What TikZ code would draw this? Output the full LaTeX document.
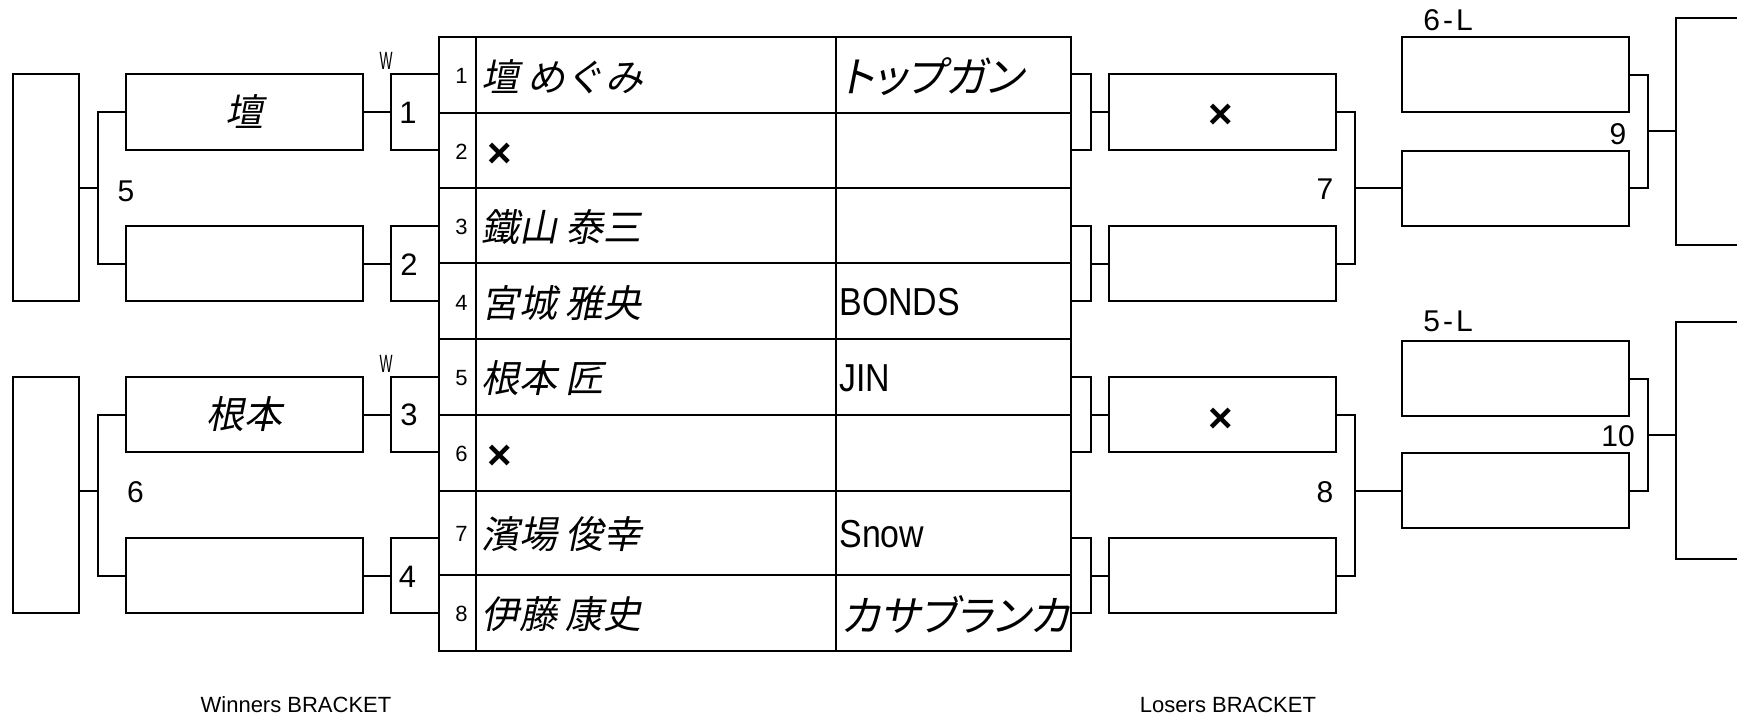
\documentclass[tikz,border=0pt]{standalone}
\usepackage{fontspec}
\setmainfont{Liberation Sans}
\newfontfamily\jpfont{Noto Sans CJK JP}[FakeSlant=0.2]
\newfontfamily\jpteamfont{Noto Sans CJK JP}[FakeSlant=0.2,RawFeature=+palt]
\newfontfamily\narrowfont{Liberation Sans}[FakeStretch=0.87]
\newfontfamily\wfont{Liberation Sans}[FakeStretch=0.55]
\usetikzlibrary{positioning}

\begin{document}
\begin{tikzpicture}[x=0.5pt,y=-0.5pt]
	\tikzstyle{slot}=[rectangle,draw,line width=1pt,outer sep=0pt,inner sep=0pt,minimum width=118.5pt,minimum height=37.75pt]
	\tikzstyle{loser}=[slot,minimum width=113.5pt]
	\tikzstyle{seed}=[slot,minimum width=23.75pt]
	\tikzstyle{tab}=[slot,minimum width=9.85pt]
	\tikzstyle{edge}=[draw,line width=1pt]
	\tikzstyle{jp}=[font=\jpfont\fontsize{19pt}{21pt}\selectfont]
	\tikzstyle{jpteam}=[font=\jpteamfont\fontsize{21pt}{22pt}\selectfont]
	\tikzstyle{en}=[font=\narrowfont\fontsize{19.5pt}{21pt}\selectfont]
	\tikzstyle{seedno}=[inner sep=0pt,anchor=east,font=\fontsize{11pt}{12pt}\selectfont]
	\tikzstyle{boxno}=[inner sep=0pt,font=\fontsize{15.5pt}{17pt}\selectfont]
	\tikzstyle{rnd}=[inner sep=0pt,font=\fontsize{15pt}{16pt}\selectfont]
	\tikzstyle{cross}=[inner sep=0pt,font=\bfseries\fontsize{21pt}{22pt}\selectfont]
	\tikzstyle{win}=[inner sep=0pt,font=\wfont\fontsize{12.5pt}{13pt}\selectfont]
	\tikzstyle{foot}=[inner sep=0pt,font=\fontsize{11pt}{12pt}\selectfont]

	\useasboundingbox (0,0) rectangle (1737,720);
	\clip (0,0) rectangle (1737,720);

	\begin{scope}
		\node [slot,jp] (wa1) at (244.5,112) {壇};
		\node [slot] (wa2) at (244.5,263.5) {};
		\node [slot,jp] (wa3) at (244.5,414.6) {根本};
		\node [slot] (wa4) at (244.5,575.5) {};
		\node [slot,minimum width=33pt,minimum height=113.5pt] (wf1) at (46,187.5) {};
		\node [slot,minimum width=33pt,minimum height=118.15pt] (wf2) at (46,495) {};

		\node [seed] (m1) at (414.75,112) {};
		\node [seed] (m2) at (414.75,263.5) {};
		\node [seed] (m3) at (414.75,414.6) {};
		\node [seed] (m4) at (414.75,575.5) {};
		\node [boxno] (m1t) at (408,113.3) {1};
		\node [boxno] (m2t) at (409,265) {2};
		\node [boxno] (m3t) at (409,415) {3};
		\node [boxno] (m4t) at (407.5,576.7) {4};
		\node [win] (w1) at (386,61) {W};
		\node [win] (w2) at (386,364) {W};

		\coordinate (j5) at (98,187.5);
		\coordinate (j6) at (98,490.7);
		\path[edge] (wa1.west) -| (j5) |- (wa2.west);
		\path[edge] (j5) -- (wf1.east);
		\path[edge] (wa3.west) -| (j6) |- (wa4.west);
		\path[edge] (j6) -- (j6 -| wf2.east);
		\path[edge] (wa1.east) -- (m1.west);
		\path[edge] (wa2.east) -- (m2.west);
		\path[edge] (wa3.east) -- (m3.west);
		\path[edge] (wa4.east) -- (m4.west);
		\node [rnd] (r5) at (126,191.5) {5};
		\node [rnd] (r6) at (135.5,492) {6};
		\node [foot] (wb) at (296,705) {Winners BRACKET};
	\end{scope}

	\begin{scope}
		\path[edge] (438.5,37) rectangle (1071,650.5);
		\path[edge] (476,37) -- (476,650.5) (835.5,37) -- (835.5,650.5);
		\path[edge] (438.5,112.7) -- (1071,112.7) (438.5,188.3) -- (1071,188.3)
			(438.5,263.3) -- (1071,263.3) (438.5,339.3) -- (1071,339.3)
			(438.5,414.5) -- (1071,414.5) (438.5,490.5) -- (1071,490.5)
			(438.5,575.2) -- (1071,575.2);

		\node [seedno] (t1) at (468,76.4) {1};
		\node [seedno] (t2) at (468,152) {2};
		\node [seedno] (t3) at (468,227.3) {3};
		\node [seedno] (t4) at (468,302.8) {4};
		\node [seedno] (t5) at (468,378.4) {5};
		\node [seedno] (t6) at (468,454) {6};
		\node [seedno] (t7) at (468,534.4) {7};
		\node [seedno] (t8) at (468,614.4) {8};

		\node [jp,inner sep=0pt,anchor=west] (p1) at (481,76.4) {壇 めぐみ};
		\node [cross] (p2) at (500,155.5) {×};
		\node [jp,inner sep=0pt,anchor=west] (p3) at (481,227.3) {鐵山 泰三};
		\node [jp,inner sep=0pt,anchor=west] (p4) at (481,302.8) {宮城 雅央};
		\node [jp,inner sep=0pt,anchor=west] (p5) at (481,378.4) {根本 匠};
		\node [cross] (p6) at (500,457.5) {×};
		\node [jp,inner sep=0pt,anchor=west] (p7) at (481,534.4) {濱場 俊幸};
		\node [jp,inner sep=0pt,anchor=west] (p8) at (481,614.4) {伊藤 康史};

		\node [jpteam,inner sep=0pt,anchor=west] (c1) at (841,76.4) {トップガン};
		\node [en,inner sep=0pt,anchor=west] (c4) at (839,302.5) {BONDS};
		\node [en,inner sep=0pt,anchor=west] (c5) at (839,378.4) {JIN};
		\node [en,inner sep=0pt,anchor=west] (c7) at (839,534.4) {Snow};
		\node [jpteam,inner sep=0pt,anchor=west] (c8) at (841,614.4) {カサブランカ};
	\end{scope}

	\begin{scope}
		\node [tab] (b1) at (1080.85,112) {};
		\node [tab] (b2) at (1080.85,263.5) {};
		\node [tab] (b3) at (1080.85,414.6) {};
		\node [tab] (b4) at (1080.85,575.5) {};
		\node [loser] (l1) at (1222.5,112) {};
		\node [loser] (l2) at (1222.5,263.5) {};
		\node [loser] (l3) at (1222.5,414.6) {};
		\node [loser] (l4) at (1222.5,575.5) {};
		\node [cross] (x1) at (1221,116.5) {×};
		\node [cross] (x3) at (1221,420) {×};
		\path[edge] (b1.east) -- (l1.west);
		\path[edge] (b2.east) -- (l2.west);
		\path[edge] (b3.east) -- (l3.west);
		\path[edge] (b4.east) -- (l4.west);

		\node [loser,minimum width=113.65pt] (s1) at (1515.35,74.5) {};
		\node [loser,minimum width=113.65pt] (s2) at (1515.35,188.3) {};
		\node [loser,minimum width=113.65pt] (s3) at (1515.35,378.65) {};
		\node [loser,minimum width=113.65pt] (s4) at (1515.35,490.7) {};
		\node [slot,minimum width=62pt,minimum height=113.5pt] (f1) at (1738,131.5) {};
		\node [slot,minimum width=62pt,minimum height=118.5pt] (f2) at (1738,440.3) {};

		\coordinate (j7) at (1355,188.3);
		\coordinate (j8) at (1355,490.7);
		\coordinate (j9) at (1648.3,131.4);
		\coordinate (j10) at (1648.3,434.7);
		\path[edge] (l1.east) -| (j7) |- (l2.east);
		\path[edge] (j7) -- (s2.west);
		\path[edge] (l3.east) -| (j8) |- (l4.east);
		\path[edge] (j8) -- (s4.west);
		\path[edge] (s1.east) -| (j9) |- (s2.east);
		\path[edge] (j9) -- (j9 -| f1.west);
		\path[edge] (s3.east) -| (j10) |- (s4.east);
		\path[edge] (j10) -- (j10 -| f2.west);

		\node [rnd] (r7) at (1325,189) {7};
		\node [rnd] (r8) at (1325,491.7) {8};
		\node [rnd] (r9) at (1618,133.7) {9};
		\node [rnd] (r10) at (1618,435.7) {10};
		\node [rnd] (s1l) at (1448,20) {6\kern1.5pt-\kern1.5pt L};
		\node [rnd] (s3l) at (1448,321) {5\kern1.5pt-\kern1.5pt L};
		\node [foot] (lb) at (1228,704.5) {Losers BRACKET};
	\end{scope}
\end{tikzpicture}
\end{document}
